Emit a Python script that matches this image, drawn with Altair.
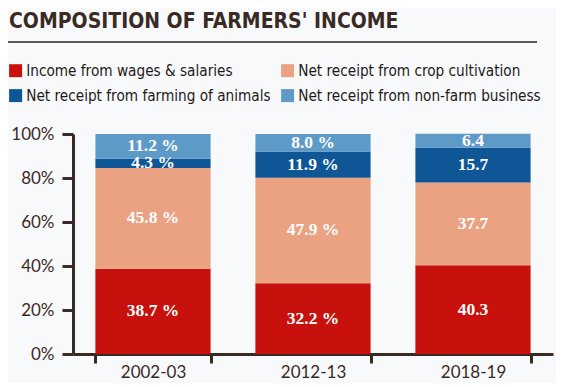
import altair as alt
import pandas as pd

years = ["2002-03", "2012-13", "2018-19"]
categories = [
    "Income from wages & salaries",
    "Net receipt from crop cultivation",
    "Net receipt from farming of animals",
    "Net receipt from non-farm business",
]
colors = ["#c8110c", "#eaa283", "#0e5695", "#5e9ac8"]
# legend is laid out column by column: wages, animals | crop, non-farm
legend_order = [0, 2, 1, 3]

wages = [38.7, 32.2, 40.3]
crop = [45.8, 47.9, 37.7]
animals = [4.3, 11.9, 15.7]
nonfarm = [11.2, 8.0, 6.4]

wages_lbl = ["38.7 %", "32.2 %", "40.3"]
crop_lbl = ["45.8 %", "47.9 %", "37.7"]
animals_lbl = ["4.3 %", "11.9 %", "15.7"]
nonfarm_lbl = ["11.2 %", "8.0 %", "6.4"]

y_ticks = [0, 20, 40, 60, 80, 100]
title_text = "COMPOSITION OF FARMERS' INCOME"

rows = []
for ci, (vals, lbls) in enumerate(
    [(wages, wages_lbl), (crop, crop_lbl), (animals, animals_lbl), (nonfarm, nonfarm_lbl)]
):
    for yi, yr in enumerate(years):
        rows.append({"year": yr, "category": categories[ci], "order": ci,
                     "value": vals[yi], "label": lbls[yi]})
df = pd.DataFrame(rows)

SANS_C = "'DejaVu Sans Condensed', 'Liberation Sans Narrow', sans-serif"
AXIS_FONT = "Lato, 'Open Sans', sans-serif"
SERIF = "'Liberation Serif', 'DejaVu Serif', serif"
DARK = "#3a2a24"

base = alt.Chart(df)

bars = base.mark_bar().encode(
    x=alt.X("year:N", sort=years,
            scale=alt.Scale(paddingInner=0.28, paddingOuter=0.14),
            axis=alt.Axis(title=None, labelAngle=0, tickBand="extent", tickSize=9,
                          tickWidth=3, domainWidth=3, labelPadding=1, labelFontSize=17)),
    y=alt.Y("value:Q", stack="zero",
            scale=alt.Scale(domain=[0, 100], nice=False),
            axis=alt.Axis(title=None, values=y_ticks, labelExpr="datum.value + '%'",
                          tickSize=11, tickWidth=3, domainWidth=3, labelPadding=8,
                          labelFontSize=17, grid=False)),
    color=alt.Color("category:N",
                    scale=alt.Scale(domain=[categories[i] for i in legend_order],
                                    range=[colors[i] for i in legend_order]),
                    legend=alt.Legend(orient="none", legendX=-65, legendY=-71, columns=2,
                                      title=None, symbolType="square", symbolSize=169,
                                      symbolStrokeWidth=0, labelFont=SANS_C,
                                      labelFontSize=15.2, labelColor="#1f1a18",
                                      labelOffset=3, labelLimit=400, columnPadding=9,
                                      rowPadding=9, padding=0)),
    order=alt.Order("order:Q"),
)

labels = base.transform_stack(
    stack="value", groupby=["year"], as_=["y0", "y1"],
    sort=[alt.SortField("order", order="ascending")],
).transform_calculate(mid="(datum.y0 + datum.y1) / 2").mark_text(
    font=SERIF, fontSize=17.5, fontWeight="bold", color="white", baseline="middle"
).encode(
    x=alt.X("year:N", sort=years),
    y=alt.Y("mid:Q"),
    text="label:N",
)

tdf = pd.DataFrame({"t": [title_text]})
title = alt.Chart(tdf).mark_text(
    align="left", baseline="alphabetic", font=SANS_C, fontSize=21,
    fontWeight="bold", color=DARK
).encode(x=alt.value(-64), y=alt.value(-106), text="t:N")

rule = alt.Chart(tdf).mark_rule(color="#2b2320", strokeWidth=1.5).encode(
    x=alt.value(-65), x2=alt.value(464), y=alt.value(-92)
)

chart = alt.layer(bars, labels, title, rule).properties(
    width=480, height=220,
    autosize=alt.AutoSizeParams(type="none"),
    padding={"left": 65, "top": 126, "right": 3, "bottom": 29},
    background="#f8f9fb",
).configure_view(stroke=None).configure_axis(
    domainColor=DARK, tickColor=DARK, labelColor=DARK, labelFont=AXIS_FONT,
)

chart.save("out.html", embed_options={"renderer": "svg", "actions": False})
